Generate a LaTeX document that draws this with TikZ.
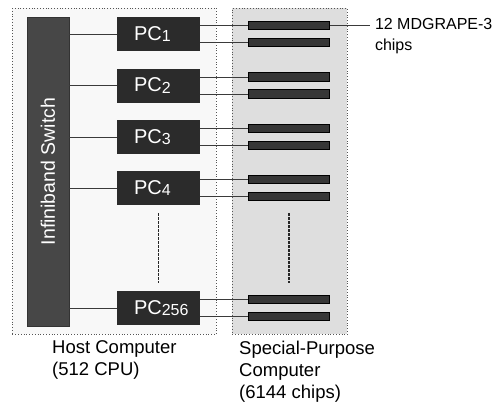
\documentclass[tikz,border=0pt]{standalone}
\usepackage{fontspec}
\setmainfont{Liberation Sans}
\usetikzlibrary{positioning,calc}

\definecolor{hostbg}{HTML}{F8F8F8}
\definecolor{spcbg}{HTML}{DEDEDE}
\definecolor{boxline}{HTML}{555555}
\definecolor{pcfill}{HTML}{2B2B2B}
\definecolor{swfill}{HTML}{474747}
\definecolor{chipfill}{HTML}{363636}
\definecolor{wirecol}{HTML}{3A3A3A}

\newcommand{\pcname}[1]{\hspace*{17pt}PC\raisebox{-1.5pt}{\fontsize{16}{16}\selectfont #1}}

\begin{document}
\begin{tikzpicture}[x=1pt,y=-1pt,
    area/.style={draw=boxline, dotted, line width=0.8pt, inner sep=0pt, minimum height=326pt, anchor=north west},
    switchbox/.style={fill=swfill, draw=black!80, line width=0.6pt, text=white, minimum width=42pt, minimum height=309pt, inner sep=0pt, font=\fontsize{19.5}{22}\selectfont},
    pc/.style={fill=pcfill, text=white, minimum height=34pt, text width=83pt, inner xsep=0pt, inner ysep=0pt, align=left, font=\fontsize{20}{24}\selectfont},
    chip/.style={fill=chipfill, draw=black, line width=0.6pt, minimum width=81pt, minimum height=8.5pt, inner sep=0pt},
    wire/.style={draw=wirecol, line width=0.8pt},
    dots/.style={draw=black!85, line width=1.6pt, dash pattern=on 2.6pt off 1.4pt},
    lbl/.style={align=left, inner sep=0pt, anchor=north west, font=\fontsize{18.5}{22}\selectfont},
    note/.style={align=left, inner sep=0pt, anchor=north west, font=\fontsize{16}{21}\selectfont}]
    \useasboundingbox (0,0) rectangle (498,405);

    % the two computers
    \node[area, fill=hostbg, minimum width=204pt] (host) at (12,8) {};
    \node[area, fill=spcbg, minimum width=115pt] (spc) at (232,8) {};

    \node[switchbox] (sw) at (48,171.5) {\rotatebox{90}{Infiniband Switch}};

    % host PCs
    \node[pc] (pc1) at (158.5,34) {\pcname{1}};
    \node[pc] (pc2) at (158.5,85.5) {\pcname{2}};
    \node[pc] (pc3) at (158.5,137) {\pcname{3}};
    \node[pc] (pc4) at (158.5,188) {\pcname{4}};
    \node[pc] (pc256) at (158.5,308) {\pcname{256}};

    % boards, two per PC
    \node[chip] (c1a) at (289,25.5) {};
    \node[chip] (c1b) at (289,42.5) {};
    \node[chip] (c2a) at (289,77) {};
    \node[chip] (c2b) at (289,94) {};
    \node[chip] (c3a) at (289,128.5) {};
    \node[chip] (c3b) at (289,145.5) {};
    \node[chip] (c4a) at (289,179.5) {};
    \node[chip] (c4b) at (289,196.5) {};
    \node[chip] (c256a) at (289,299.5) {};
    \node[chip] (c256b) at (289,316.5) {};

    \draw[wire] (pc1.west) -- (pc1.west -| sw.east);
    \draw[wire] (pc2.west) -- (pc2.west -| sw.east);
    \draw[wire] (pc3.west) -- (pc3.west -| sw.east);
    \draw[wire] (pc4.west) -- (pc4.west -| sw.east);
    \draw[wire] (pc256.west) -- (pc256.west -| sw.east);

    \draw[wire] (c1a.west) -- (c1a.west -| pc1.east);
    \draw[wire] (c1b.west) -- (c1b.west -| pc1.east);
    \draw[wire] (c2a.west) -- (c2a.west -| pc2.east);
    \draw[wire] (c2b.west) -- (c2b.west -| pc2.east);
    \draw[wire] (c3a.west) -- (c3a.west -| pc3.east);
    \draw[wire] (c3b.west) -- (c3b.west -| pc3.east);
    \draw[wire] (c4a.west) -- (c4a.west -| pc4.east);
    \draw[wire] (c4b.west) -- (c4b.west -| pc4.east);
    \draw[wire] (c256a.west) -- (c256a.west -| pc256.east);
    \draw[wire] (c256b.west) -- (c256b.west -| pc256.east);

    %\draw (pc4) -- (pc256);
    \draw[dots] ($(pc4.south)+(0,8)$) -- ($(pc256.north)+(0,-8)$);
    \draw[dots] ($(pc4.south -| c4b)+(0,8)$) -- ($(pc256.north -| c256a)+(0,-8)$);

    \draw[wire] (c1a.east) -- ++(40,0) coordinate (tip);
    \node[note] (chiplbl) at ([xshift=5pt,yshift=7.5pt]tip) {12 MDGRAPE-3\\chips};

    \node[lbl] (hostlbl) at ([xshift=40pt,yshift=-6pt]host.south west) {Host Computer\\(512 CPU)};
    \node[lbl] (spclbl) at ([xshift=7pt,yshift=-6pt]spc.south west) {Special-Purpose\\Computer\\(6144 chips)};
\end{tikzpicture}
\end{document}
